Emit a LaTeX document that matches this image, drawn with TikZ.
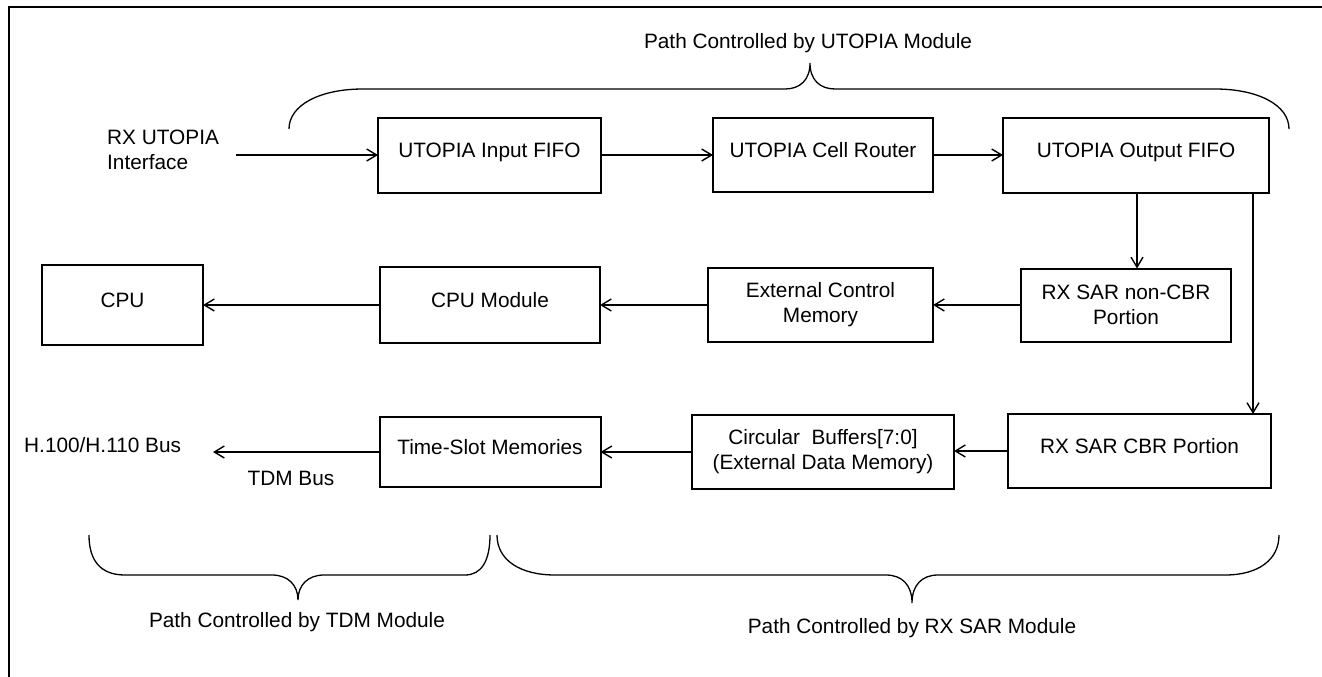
\documentclass[tikz,border=0pt]{standalone}
\usepackage{fontspec}
\setmainfont{Liberation Sans}
\usetikzlibrary{arrows.meta}
\begin{document}
\begin{tikzpicture}[x=1pt,y=-1pt,
  txt/.style={font=\fontsize{20.8}{25}\selectfont},
  box/.style={draw, line width=2pt, inner sep=0pt, outer sep=0pt, align=center, txt},
  oneline/.style={text height=15pt, text depth=10pt},
  lbl/.style={inner sep=0pt, txt},
  arr/.style={-{Straight Barb[length=10pt,width=12pt,line width=1.4pt]}, line width=1.6pt},
  brace/.style={line width=1.3pt}]
\useasboundingbox (0,0) rectangle (1322,677);
% frame
\draw[line width=2pt] (9,677) -- (9,7) -- (1322,7);
% top row
\node[lbl, align=left, anchor=north west] (rxin) at (107,130) {RX UTOPIA\\Interface};
\coordinate (rxstart) at (236,155);
\node[box, oneline, minimum width=223pt, minimum height=75pt] (in) at (489.5,155) {UTOPIA Input FIFO};
\node[box, oneline, minimum width=220pt, minimum height=74pt] (router) at (823,155) {UTOPIA Cell Router};
\node[box, oneline, minimum width=266pt, minimum height=75pt] (out) at (1136,155) {UTOPIA Output FIFO};
\draw[arr] (rxstart) -- (in.west);
\draw[arr] (in.east) -- (router.west);
\draw[arr] (router.east) -- (out.west);
% middle row
\node[box, oneline, minimum width=161pt, minimum height=80pt] (cpu) at (122.5,305) {CPU};
\node[box, oneline, minimum width=220pt, minimum height=76pt] (cpumod) at (490,305) {CPU Module};
\node[box, minimum width=225pt, minimum height=74pt] (ecm) at (820.5,305) {External Control\\Memory};
\node[box, minimum width=210pt, minimum height=73pt] (noncbr) at (1126,305) {RX SAR non-CBR\\Portion};
\draw[arr] (cpumod.west) -- (cpu.east);
\draw[arr] (ecm.west) -- (cpumod.east);
\draw[arr] (noncbr.west) -- (ecm.east);
\coordinate (xa) at (1137,0);
\coordinate (xb) at (1253,0);
\draw[arr] (out.south -| xa) -- (noncbr.north -| xa);
% bottom row
\node[box, oneline, minimum width=221pt, minimum height=70pt] (ts) at (490,452) {Time-Slot Memories};
\node[box, minimum width=262pt, minimum height=74pt] (circ) at (823,452) {Circular~ Buffers[7:0]\\(External Data Memory)};
\node[box, oneline, minimum width=263pt, minimum height=74pt] (cbr) at (1139.5,451) {RX SAR CBR Portion};
\draw[arr] (out.south -| xb) -- (cbr.north -| xb);
\draw[arr] (cbr.west) -- (circ.east |- cbr.west);
\draw[arr] (circ.west |- ts.west) -- (ts.east);
\node[lbl, anchor=west] (h100) at (24,445) {H.100/H.110 Bus};
\coordinate (busend) at (213,452);
\draw[arr] (ts.west |- busend) -- (busend);
\node[lbl] (tdmbus) at (291,478) {TDM Bus};
% braces
\draw[brace] (289,129) .. controls (289,105) and (320,89) .. (363,89) -- (785,89)
  .. controls (800,89) and (810,80) .. (810,63) .. controls (810,80) and (820,89) .. (835,89)
  -- (1215,89) .. controls (1258,89) and (1289,105) .. (1289,129);
\node[lbl] (utopialbl) at (808,43) {Path Controlled by UTOPIA Module};
\draw[brace] (89,535) .. controls (89,560) and (100,575) .. (125,575) -- (272,575)
  .. controls (288,575) and (298,585) .. (298,600) .. controls (298,585) and (308,575) .. (324,575)
  -- (465,575) .. controls (482,575) and (490,560) .. (490,535);
\node[lbl] (tdmlbl) at (297,622) {Path Controlled by TDM Module};
\draw[brace] (497,535) .. controls (497,560) and (520,575) .. (555,575) -- (886,575)
  .. controls (902,575) and (912,585) .. (912,603) .. controls (912,585) and (922,575) .. (938,575)
  -- (1225,575) .. controls (1258,575) and (1279,560) .. (1279,535);
\node[lbl] (sarlbl) at (912,628) {Path Controlled by RX SAR Module};
\end{tikzpicture}
\end{document}
